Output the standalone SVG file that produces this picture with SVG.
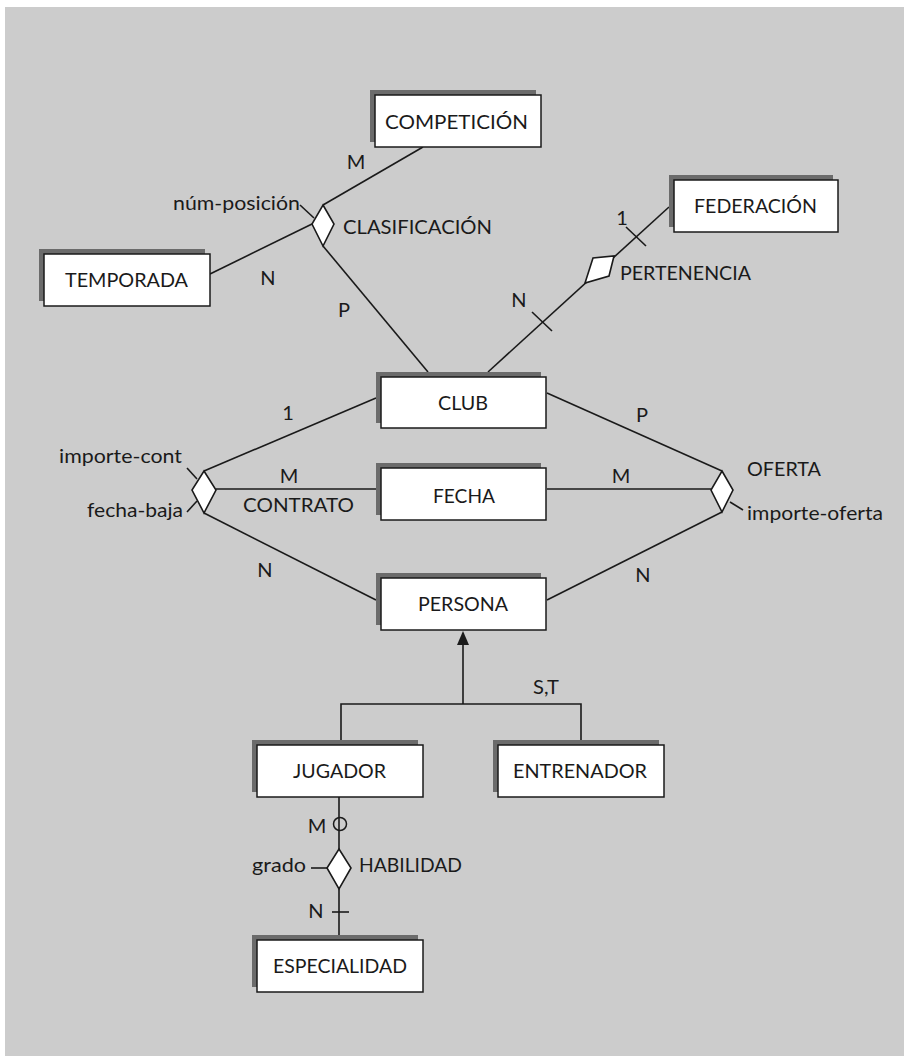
<svg xmlns="http://www.w3.org/2000/svg" width="904" height="1056" viewBox="0 0 904 1056">
<style>
text{font-family:Lato,"Open Sans","DejaVu Sans",sans-serif;font-size:20px;fill:#1a1a1a}
.sh{fill:#6b6b6b}
.bx{fill:#ffffff;stroke:#1a1a1a;stroke-width:1.5}
.ln{stroke:#1a1a1a;stroke-width:1.6;fill:none}
.dm{fill:#ffffff;stroke:#1a1a1a;stroke-width:1.6}
</style>
<rect x="5" y="7" width="899" height="1049" fill="#cccccc"/>

<g id="connectors">
<!-- CLASIFICACION -->
<line class="ln" x1="423" y1="147" x2="323" y2="205"/>
<line class="ln" x1="210" y1="274" x2="312" y2="224"/>
<line class="ln" x1="323" y1="246" x2="428" y2="372"/>
<line class="ln" x1="300" y1="205" x2="314" y2="218"/>
<!-- PERTENENCIA -->
<line class="ln" x1="669" y1="207" x2="488" y2="372"/>
<line class="ln" x1="626" y1="227" x2="646" y2="246"/>
<line class="ln" x1="532" y1="312" x2="552" y2="331"/>
<!-- CONTRATO -->
<line class="ln" x1="204" y1="471" x2="376" y2="398"/>
<line class="ln" x1="216" y1="489" x2="376" y2="489"/>
<line class="ln" x1="204" y1="513" x2="376" y2="600"/>
<line class="ln" x1="187" y1="468" x2="197" y2="479"/>
<line class="ln" x1="187" y1="512" x2="197" y2="501"/>
<!-- OFERTA -->
<line class="ln" x1="547" y1="393" x2="722" y2="471"/>
<line class="ln" x1="547" y1="489" x2="711" y2="489"/>
<line class="ln" x1="547" y1="600" x2="722" y2="512"/>
<line class="ln" x1="730" y1="502" x2="743" y2="510"/>
<!-- ISA -->
<line class="ln" x1="463" y1="704" x2="463" y2="644"/>
<polygon points="463,631 469,645 457,645" fill="#1a1a1a"/>
<polyline class="ln" points="341,740 341,704 581,704 581,740"/>
<!-- HABILIDAD -->
<line class="ln" x1="339" y1="797" x2="339" y2="935"/>
<circle cx="340" cy="824" r="6.5" fill="none" stroke="#1a1a1a" stroke-width="1.5"/>
<line class="ln" x1="311" y1="868" x2="328" y2="868"/>
<line class="ln" x1="332" y1="912" x2="349" y2="912"/>
</g>

<g id="rel-clasificacion">
<polygon class="dm" points="323,205 334,224 323,246 312,224"/>
<text x="343" y="234" textLength="149" lengthAdjust="spacingAndGlyphs">CLASIFICACIÓN</text>
<text x="173" y="210" textLength="127" lengthAdjust="spacingAndGlyphs">núm-posición</text>
<text x="356" y="169" text-anchor="middle">M</text>
<text x="268" y="285" text-anchor="middle">N</text>
<text x="344" y="317" text-anchor="middle">P</text>
</g>

<g id="rel-pertenencia">
<polygon class="dm" points="614,256 609,276 585,283 593,258"/>
<text x="620" y="280" textLength="131" lengthAdjust="spacingAndGlyphs">PERTENENCIA</text>
<text x="622" y="225" text-anchor="middle">1</text>
<text x="519" y="307" text-anchor="middle">N</text>
</g>

<g id="rel-contrato">
<polygon class="dm" points="204,471 216,490 204,513 192,490"/>
<text x="243" y="512" textLength="111" lengthAdjust="spacingAndGlyphs">CONTRATO</text>
<text x="59" y="463" textLength="123" lengthAdjust="spacingAndGlyphs">importe-cont</text>
<text x="87" y="517" textLength="96" lengthAdjust="spacingAndGlyphs">fecha-baja</text>
<text x="288" y="420" text-anchor="middle">1</text>
<text x="289" y="483" text-anchor="middle">M</text>
<text x="265" y="577" text-anchor="middle">N</text>
</g>

<g id="rel-oferta">
<polygon class="dm" points="722,471 733,490 722,512 711,490"/>
<text x="747" y="476" textLength="74" lengthAdjust="spacingAndGlyphs">OFERTA</text>
<text x="747" y="520" textLength="136" lengthAdjust="spacingAndGlyphs">importe-oferta</text>
<text x="642" y="422" text-anchor="middle">P</text>
<text x="621" y="483" text-anchor="middle">M</text>
<text x="643" y="582" text-anchor="middle">N</text>
</g>

<g id="isa">
<text x="533" y="694" textLength="26" lengthAdjust="spacingAndGlyphs">S,T</text>
</g>

<g id="rel-habilidad">
<polygon class="dm" points="339,849 351,868 339,889 327,868"/>
<text x="359" y="872" textLength="103" lengthAdjust="spacingAndGlyphs">HABILIDAD</text>
<text x="252" y="872" textLength="54" lengthAdjust="spacingAndGlyphs">grado</text>
<text x="317" y="833" text-anchor="middle">M</text>
<text x="316" y="918" text-anchor="middle">N</text>
</g>

<g id="competicion">
<rect class="sh" x="370" y="90" width="166" height="52"/>
<rect class="bx" x="375" y="95" width="166" height="52"/>
<text x="385" y="129" textLength="143" lengthAdjust="spacingAndGlyphs">COMPETICIÓN</text>
</g>
<g id="temporada">
<rect class="sh" x="39" y="249" width="166" height="52"/>
<rect class="bx" x="44" y="254" width="166" height="52"/>
<text x="65" y="287" textLength="123" lengthAdjust="spacingAndGlyphs">TEMPORADA</text>
</g>
<g id="federacion">
<rect class="sh" x="669" y="175" width="164" height="52"/>
<rect class="bx" x="674" y="180" width="164" height="52"/>
<text x="694" y="213" textLength="123" lengthAdjust="spacingAndGlyphs">FEDERACIÓN</text>
</g>
<g id="club">
<rect class="sh" x="376" y="372" width="165" height="51"/>
<rect class="bx" x="381" y="377" width="165" height="51"/>
<text x="438" y="410" textLength="50" lengthAdjust="spacingAndGlyphs">CLUB</text>
</g>
<g id="fecha">
<rect class="sh" x="376" y="463" width="165" height="52"/>
<rect class="bx" x="381" y="468" width="165" height="52"/>
<text x="433" y="503" textLength="62" lengthAdjust="spacingAndGlyphs">FECHA</text>
</g>
<g id="persona">
<rect class="sh" x="376" y="573" width="165" height="52"/>
<rect class="bx" x="381" y="578" width="165" height="52"/>
<text x="418" y="611" textLength="90" lengthAdjust="spacingAndGlyphs">PERSONA</text>
</g>
<g id="jugador">
<rect class="sh" x="252" y="740" width="166" height="52"/>
<rect class="bx" x="257" y="745" width="166" height="52"/>
<text x="293" y="778" textLength="93" lengthAdjust="spacingAndGlyphs">JUGADOR</text>
</g>
<g id="entrenador">
<rect class="sh" x="493" y="740" width="166" height="52"/>
<rect class="bx" x="498" y="745" width="166" height="52"/>
<text x="513" y="778" textLength="134" lengthAdjust="spacingAndGlyphs">ENTRENADOR</text>
</g>
<g id="especialidad">
<rect class="sh" x="252" y="935" width="166" height="52"/>
<rect class="bx" x="257" y="940" width="166" height="52"/>
<text x="273" y="973" textLength="134" lengthAdjust="spacingAndGlyphs">ESPECIALIDAD</text>
</g>
</svg>
